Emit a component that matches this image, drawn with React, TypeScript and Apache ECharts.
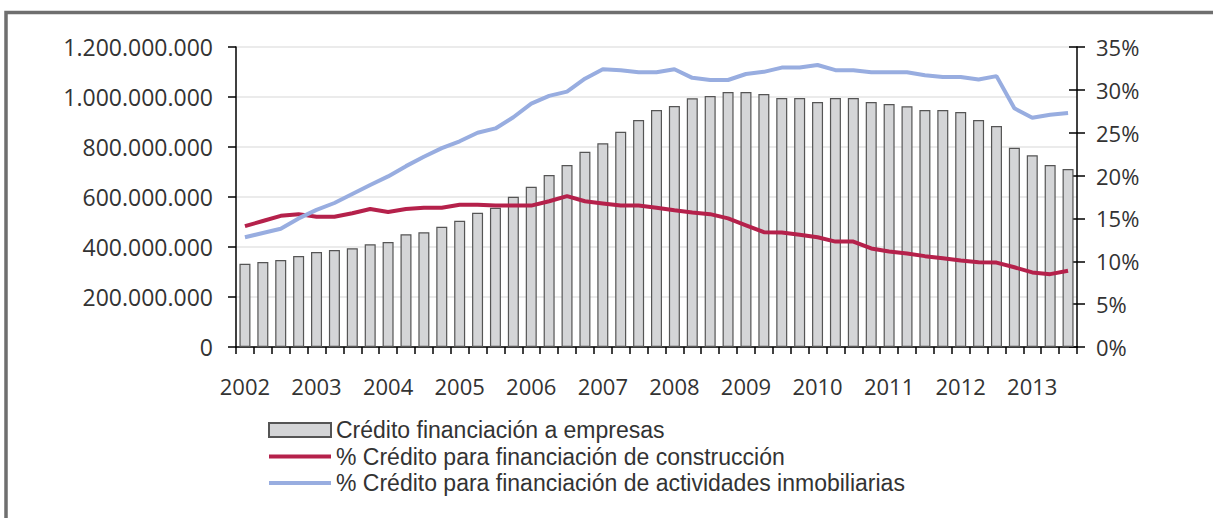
import React, { useEffect, useRef } from "react";
import * as echarts from "echarts";

const years = ["2002", "2003", "2004", "2005", "2006", "2007", "2008", "2009", "2010", "2011", "2012", "2013"];
const quarterCount = 47;
const categories: string[] = [];
for (let i = 0; i < quarterCount; i++) {
  categories.push(`${years[Math.floor(i / 4)]} T${(i % 4) + 1}`);
}

const creditoEmpresas = [
  333e6, 340e6, 348e6, 364e6, 380e6, 388e6, 395e6, 411e6, 420e6, 451e6, 459e6, 481e6,
  505e6, 537e6, 557e6, 601e6, 641e6, 688e6, 728e6, 781e6, 815e6, 861e6, 908e6, 948e6,
  964e6, 995e6, 1004e6, 1020e6, 1020e6, 1012e6, 996e6, 996e6, 980e6, 996e6, 996e6, 980e6,
  972e6, 963e6, 948e6, 948e6, 940e6, 908e6, 884e6, 797e6, 767e6, 728e6, 712e6,
];

const pctConstruccion = [
  14.1, 14.7, 15.3, 15.5, 15.2, 15.2, 15.6, 16.1, 15.75, 16.1, 16.25, 16.25,
  16.6, 16.6, 16.5, 16.5, 16.5, 17.0, 17.6, 17.0, 16.75, 16.5, 16.5, 16.25,
  15.95, 15.7, 15.5, 15.0, 14.2, 13.4, 13.35, 13.1, 12.8, 12.3, 12.3, 11.5,
  11.15, 10.9, 10.6, 10.35, 10.1, 9.9, 9.85, 9.3, 8.7, 8.5, 8.9,
];

const pctInmobiliarias = [
  12.8, 13.3, 13.8, 15.0, 16.0, 16.8, 17.85, 18.9, 19.9, 21.1, 22.2, 23.2,
  24.0, 25.0, 25.5, 26.8, 28.4, 29.3, 29.8, 31.3, 32.4, 32.3, 32.05, 32.05,
  32.4, 31.4, 31.15, 31.15, 31.85, 32.1, 32.6, 32.6, 32.9, 32.3, 32.3, 32.05,
  32.05, 32.05, 31.7, 31.5, 31.5, 31.2, 31.6, 27.85, 26.75, 27.1, 27.3,
];

const seriesNames = [
  "Crédito financiación a empresas",
  "% Crédito para financiación de construcción",
  "% Crédito para financiación de actividades inmobiliarias",
];

const FONT = "Open Sans";
const LEGEND_FONT = "Liberation Sans";
const RED = "#b5214b";
const BLUE = "#98ade0";
const LINE_ICON =
  "path://M0,0 L0.01,0 L0,0.01 Z M0,5 L62,5 L62,9 L0,9 Z M62,14 L61.99,14 L62,13.99 Z";

function fmtThousands(v: number): string {
  return String(Math.round(v)).replace(/\B(?=(\d{3})+(?!\d))/g, ".");
}

export default function App() {
  const ref = useRef<HTMLDivElement>(null);
  useEffect(() => {
    if (!ref.current) return;
    const chart = echarts.init(ref.current, undefined, { renderer: "svg" });
    chart.setOption({
      animation: false,
      backgroundColor: "#ffffff",
      textStyle: { fontFamily: FONT },
      graphic: [
        {
          type: "rect",
          shape: { x: 6, y: 12.5, width: 1400, height: 700 },
          style: { fill: "none", stroke: "#6f6f6f", lineWidth: 3.5 },
          silent: true,
        },
      ],
      grid: { left: 236, right: 136, top: 47, bottom: 171, containLabel: false },
      legend: {
        orient: "vertical",
        left: 268,
        top: 418.5,
        padding: 0,
        itemWidth: 62,
        itemHeight: 14,
        itemGap: 3.5,
        textStyle: { fontFamily: LEGEND_FONT, fontSize: 23, lineHeight: 23, color: "#333333" },
        data: [
          { name: seriesNames[0], icon: "rect" },
          { name: seriesNames[1], icon: LINE_ICON, itemStyle: { color: RED } },
          { name: seriesNames[2], icon: LINE_ICON, itemStyle: { color: BLUE } },
        ],
      },
      xAxis: {
        type: "category",
        data: categories,
        boundaryGap: true,
        axisLine: { show: true, lineStyle: { color: "#000000", width: 1.5 } },
        axisTick: { show: true, interval: 0, length: 7, lineStyle: { color: "#000000", width: 1.5 } },
        axisLabel: {
          interval: 3,
          margin: 28,
          fontSize: 22,
          color: "#333333",
          fontFamily: FONT,
          formatter: (v: string) => v.split(" ")[0],
        },
        splitLine: { show: false },
      },
      yAxis: [
        {
          type: "value",
          position: "left",
          min: 0,
          max: 1200000000,
          interval: 200000000,
          axisLine: { show: true, lineStyle: { color: "#000000", width: 1.5 } },
          axisTick: { show: true, length: 8, lineStyle: { color: "#000000", width: 1.5 } },
          axisLabel: {
            margin: 23,
            fontSize: 23,
            color: "#333333",
            fontFamily: FONT,
            formatter: (v: number) => fmtThousands(v),
          },
          splitLine: { show: true, lineStyle: { color: "#e4e4e4", width: 1.5 } },
        },
        {
          type: "value",
          position: "right",
          min: 0,
          max: 35,
          interval: 5,
          axisLine: { show: true, lineStyle: { color: "#000000", width: 1.5 } },
          axisTick: { show: true, length: 8, lineStyle: { color: "#000000", width: 1.5 } },
          axisLabel: {
            margin: 19,
            fontSize: 22,
            color: "#333333",
            fontFamily: FONT,
            formatter: (v: number) => `${v}%`,
          },
          splitLine: { show: false },
        },
        {
          type: "value",
          position: "right",
          min: 0,
          max: 35,
          interval: 5,
          axisLine: { show: false },
          axisTick: { show: true, inside: true, length: 8, lineStyle: { color: "#000000", width: 1.5 } },
          axisLabel: { show: false },
          splitLine: { show: false },
        },
      ],
      series: [
        {
          name: seriesNames[0],
          type: "bar",
          yAxisIndex: 0,
          data: creditoEmpresas,
          barWidth: 11,
          itemStyle: { color: "#d4d5d7", borderColor: "#555555", borderWidth: 1.2 },
          z: 2,
        },
        {
          name: seriesNames[1],
          type: "line",
          yAxisIndex: 1,
          data: pctConstruccion,
          symbol: "none",
          lineStyle: { color: RED, width: 4 },
          itemStyle: { color: RED },
          z: 3,
        },
        {
          name: seriesNames[2],
          type: "line",
          yAxisIndex: 1,
          data: pctInmobiliarias,
          symbol: "none",
          lineStyle: { color: BLUE, width: 4 },
          itemStyle: { color: BLUE },
          z: 3,
        },
      ],
    });
    return () => chart.dispose();
  }, []);
  return (
    <div
      ref={ref}
      style={{ position: "absolute", left: 0, top: 0, width: 1213, height: 518, background: "#ffffff" }}
    />
  );
}
